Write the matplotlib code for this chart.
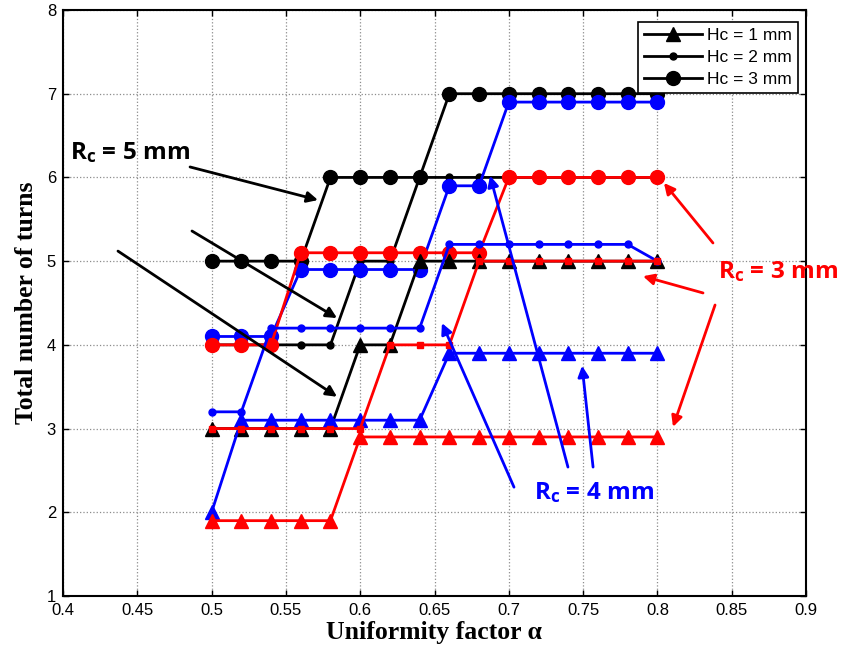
import numpy as np
import matplotlib
matplotlib.use("Agg")
import matplotlib.pyplot as plt

alpha = [0.50, 0.52, 0.54, 0.56, 0.58, 0.60, 0.62, 0.64,
         0.66, 0.68, 0.70, 0.72, 0.74, 0.76, 0.78, 0.80]

# Rc = 5 mm (black)
rc5_hc1 = [3, 3, 3, 3, 3, 4, 4, 5, 5, 5, 5, 5, 5, 5, 5, 5]
rc5_hc2 = [4, 4, 4, 4, 4, 5, 5, 6, 6, 6, 6, 6, 6, 6, 6, 6]
rc5_hc3 = [5, 5, 5, 5, 6, 6, 6, 6, 7, 7, 7, 7, 7, 7, 7, 7]
# Rc = 4 mm (blue)
rc4_hc1 = [2.0, 3.1, 3.1, 3.1, 3.1, 3.1, 3.1, 3.1, 3.9, 3.9, 3.9, 3.9, 3.9, 3.9, 3.9, 3.9]
rc4_hc2 = [3.2, 3.2, 4.2, 4.2, 4.2, 4.2, 4.2, 4.2, 5.2, 5.2, 5.2, 5.2, 5.2, 5.2, 5.2, 5.0]
rc4_hc3 = [4.1, 4.1, 4.1, 4.9, 4.9, 4.9, 4.9, 4.9, 5.9, 5.9, 6.9, 6.9, 6.9, 6.9, 6.9, 6.9]
# Rc = 3 mm (red)
rc3_hc1 = [1.9, 1.9, 1.9, 1.9, 1.9, 2.9, 2.9, 2.9, 2.9, 2.9, 2.9, 2.9, 2.9, 2.9, 2.9, 2.9]
rc3_hc2 = [3, 3, 3, 3, 3, 3, 4, 4, 4, 5, 5, 5, 5, 5, 5, 5]
rc3_hc3 = [4, 4, 4, 5.1, 5.1, 5.1, 5.1, 5.1, 5.1, 5.1, 6, 6, 6, 6, 6, 6]

legend_labels = ["Hc = 1 mm", "Hc = 2 mm", "Hc = 3 mm"]
xticks = [0.4, 0.45, 0.5, 0.55, 0.6, 0.65, 0.7, 0.75, 0.8, 0.85, 0.9]
yticks = [1, 2, 3, 4, 5, 6, 7, 8]

plt.rcParams['font.family'] = ['Liberation Sans', 'DejaVu Sans']

fig = plt.figure(figsize=(8.46, 6.51), dpi=100)
ax = fig.add_axes([63/846, 55/651, 743/846, 586/651])

lw = 2.0
tri = dict(marker='^', markersize=10)
dot = dict(marker='o', markersize=5)
sq = dict(marker='s', markersize=5)
big = dict(marker='o', markersize=10)

ax.plot(alpha, rc5_hc2, color='black', lw=lw, **dot)
ax.plot(alpha, rc5_hc3, color='black', lw=lw, **big)
ax.plot(alpha, rc4_hc3, color='blue', lw=lw, **big)
ax.plot(alpha, rc3_hc3, color='red', lw=lw, **big)
ax.plot(alpha, rc5_hc1, color='black', lw=lw, **tri)
ax.plot(alpha, rc4_hc1, color='blue', lw=lw, **tri)
ax.plot(alpha, rc4_hc2, color='blue', lw=lw, **dot)
ax.plot(alpha, rc3_hc1, color='red', lw=lw, **tri)
ax.plot(alpha, rc3_hc2, color='red', lw=lw, **sq)

# legend proxies
h1, = ax.plot([], [], color='black', lw=lw, **tri)
h2, = ax.plot([], [], color='black', lw=lw, **dot)
h3, = ax.plot([], [], color='black', lw=lw, **big)
leg = ax.legend([h1, h2, h3], legend_labels, loc='upper right',
                bbox_to_anchor=(0.989, 0.98), borderaxespad=0,
                fancybox=False, framealpha=1,
                edgecolor='black', fontsize=12.5, handlelength=3.3,
                borderpad=0.35, labelspacing=0.4, handletextpad=0.3)
leg.get_frame().set_linewidth(1.2)

ax.set_xlim(0.4, 0.9)
ax.set_ylim(1, 8)
ax.set_xticks(xticks)
ax.set_yticks(yticks)
ax.set_xticklabels([f"{v:g}" for v in xticks])
ax.set_yticklabels([f"{v:g}" for v in yticks])
ax.tick_params(direction='in', length=4, width=1, top=True, right=True,
               labelsize=12, pad=5)
ax.grid(True, linestyle=':', color='#8c8c8c', linewidth=0.9)
for s in ax.spines.values():
    s.set_linewidth(1.5)

ax.set_xlabel("Uniformity factor α", family=['Liberation Serif'],
              fontweight='bold', fontsize=18.5, labelpad=2)
ax.set_ylabel("Total number of turns", family=['Liberation Serif'],
              fontweight='bold', fontsize=18.5, labelpad=6)

afont = dict(family=['Open Sans', 'DejaVu Sans'], fontweight='bold', fontsize=17.5)

def arrow(tail, tip, color):
    ax.annotate("", xy=tip, xytext=tail,
                arrowprops=dict(arrowstyle='-|>', color=color, lw=2,
                                mutation_scale=16, shrinkA=0, shrinkB=0),
                annotation_clip=False)

# Rc = 5 mm
ax.text(0.4047, 6.30, r"R$\mathregular{_c}$ = 5 mm", color='black',
        ha='left', va='center', **afont)
arrow((0.4855, 6.125), (0.5716, 5.73), 'black')
arrow((0.4868, 5.36), (0.5844, 4.32), 'black')
arrow((0.437, 5.12), (0.5844, 3.38), 'black')

# Rc = 3 mm
ax.text(0.8408, 4.87, r"R$\mathregular{_c}$ = 3 mm", color='red',
        ha='left', va='center', clip_on=False, **afont)
arrow((0.8374, 5.217), (0.8044, 5.934), 'red')
arrow((0.8307, 4.62), (0.7903, 4.82), 'red')
arrow((0.8388, 4.476), (0.8105, 3.02), 'red')

# Rc = 4 mm
ax.text(0.717, 2.24, r"R$\mathregular{_c}$ = 4 mm", color='blue',
        ha='left', va='center', **afont)
arrow((0.7035, 2.30), (0.655, 4.26), 'blue')
arrow((0.7398, 2.54), (0.6874, 6.02), 'blue')
arrow((0.7567, 2.54), (0.7493, 3.75), 'blue')

fig.savefig("out.png", dpi=100)
